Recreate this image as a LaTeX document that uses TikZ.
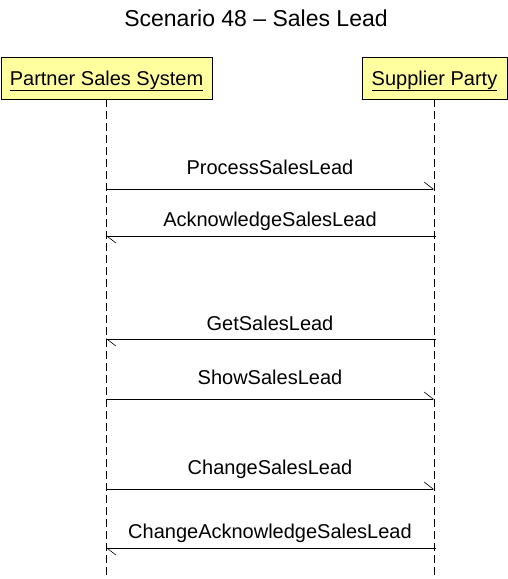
\documentclass[tikz,border=0pt]{standalone}
\usepackage{fontspec}
\setmainfont{Liberation Sans}
\usetikzlibrary{arrows.meta}
\definecolor{boxfill}{RGB}{255,255,160}
\tikzset{
  actor/.style={draw=black, line width=0.8pt, fill=boxfill, minimum height=42pt, inner sep=0pt, text height=20pt, text depth=6pt, font=\fontsize{20}{24}\selectfont},
  lifeline/.style={draw=black, line width=0.7pt, dash pattern=on 8pt off 4pt},
  msg/.style={draw=black, line width=0.7pt, -{Straight Barb[left, length=9pt, width=14pt, line width=0.6pt]}},
  lbl/.style={anchor=base, inner sep=0pt, font=\fontsize{20}{24}\selectfont},
}
\begin{document}
\begin{tikzpicture}[x=1pt,y=-1pt]
\useasboundingbox (0,0) rectangle (508,579);
\node[anchor=base, inner sep=0pt, font=\fontsize{23}{27}\selectfont] (title) at (256,26) {Scenario 48 – Sales Lead};
\node[actor, minimum width=211pt] (A) at (106.5,78) {\underline{Partner Sales System}};
\node[actor, minimum width=145pt] (B) at (434.5,78) {\underline{Supplier Party}};
\coordinate (Aend) at (106,579);
\coordinate (Bend) at (434,579);
\draw[lifeline] (106,99) -- (Aend);
\draw[lifeline] (434,99) -- (Bend);
% message anchors
\coordinate (a1) at (106,189); \coordinate (b1) at (434,189);
\coordinate (a2) at (106,236); \coordinate (b2) at (436,236);
\coordinate (a3) at (106,339); \coordinate (b3) at (436,339);
\coordinate (a4) at (106,399); \coordinate (b4) at (434,399);
\coordinate (a5) at (106,489); \coordinate (b5) at (434,489);
\coordinate (a6) at (106,548); \coordinate (b6) at (436,548);
\draw[msg] (a1) -- (b1);
\draw[msg] (b2) -- (a2);
\draw[msg] (b3) -- (a3);
\draw[msg] (a4) -- (b4);
\draw[msg] (a5) -- (b5);
\draw[msg] (b6) -- (a6);
\node[lbl] (m1) at (270,174) {ProcessSalesLead};
\node[lbl] (m2) at (270,226) {AcknowledgeSalesLead};
\node[lbl] (m3) at (270,330) {GetSalesLead};
\node[lbl] (m4) at (270,384) {ShowSalesLead};
\node[lbl] (m5) at (270,474) {ChangeSalesLead};
\node[lbl] (m6) at (270,538) {ChangeAcknowledgeSalesLead};
\end{tikzpicture}
\end{document}
